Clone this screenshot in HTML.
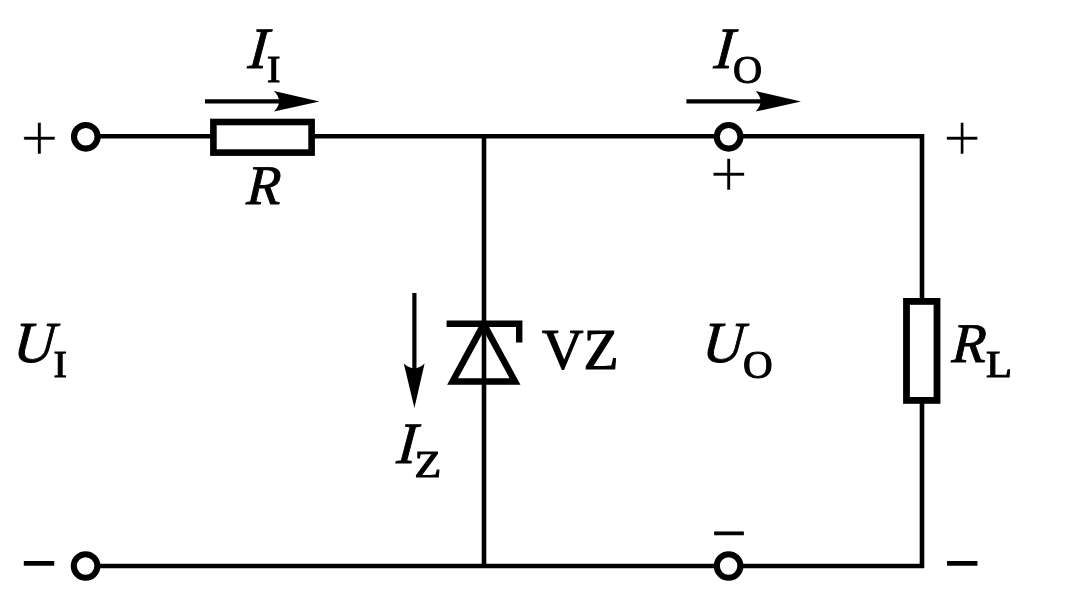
<!DOCTYPE html>
<html lang="en">
<head>
<meta charset="utf-8">
<title>Zener regulator circuit</title>
<style>
html,body{margin:0;padding:0;background:#fff;}
body{width:1080px;height:590px;overflow:hidden;}
svg{display:block;will-change:transform;}
text{font-family:"Liberation Serif","Times New Roman",serif;fill:#000;}
.it{font-style:italic;}
.pl{stroke:#fff;stroke-width:0.5;}
.w{stroke:#000;stroke-width:4.6;fill:none;stroke-linecap:butt;}
</style>
</head>
<body>
<svg width="1080" height="590" viewBox="0 0 1080 590">
<rect width="1080" height="590" fill="#fff"/>
<!-- wires -->
<path class="w" d="M97 136.2H213.5M311.5 136.2H717M740 136.2H922V301M922 401V566H740M717 566H97"/>
<path class="w" d="M484 136.2V566"/>
<!-- terminals -->
<g fill="#fff" stroke="#000" stroke-width="6.1">
<circle cx="85.8" cy="136.8" r="11.8"/>
<circle cx="85.6" cy="566" r="11.8"/>
<circle cx="728.6" cy="136.8" r="11.8"/>
<circle cx="728.6" cy="566" r="11.8"/>
</g>
<!-- resistors -->
<rect x="213.4" y="122" width="98.2" height="30.6" fill="#fff" stroke="#000" stroke-width="6.6"/>
<rect x="906.5" y="301.4" width="30.5" height="99" fill="#fff" stroke="#000" stroke-width="6.8"/>
<!-- zener -->
<path d="M446.6 323.8H519.2V342.6" fill="none" stroke="#000" stroke-width="6.4" stroke-linejoin="miter"/>
<path d="M483.8 324.1L452.6 381.5H515Z" fill="none" stroke="#000" stroke-width="6.5" stroke-linejoin="miter" stroke-miterlimit="10"/>
<!-- arrows -->
<path d="M205 101.4H284" stroke="#000" stroke-width="4.2" fill="none"/>
<path d="M319.4 101.4L274 91Q284 101.4 274 111.6Z" fill="#000"/>
<path d="M686.4 101.4H766" stroke="#000" stroke-width="4.2" fill="none"/>
<path d="M801 101.4L755.6 91Q765.6 101.4 755.6 111.6Z" fill="#000"/>
<path d="M414.4 293V372" stroke="#000" stroke-width="4.2" fill="none"/>
<path d="M414.4 408L403.8 363.4Q414.4 373 424.6 363.4Z" fill="#000"/>
<!-- labels -->
<g class="it" stroke="#000" stroke-width="0.9">
<text id="t1" transform="translate(247.3 67.9) skewX(-5)" font-size="58.5">I</text>
<text id="t3" transform="translate(245.9 204) skewX(-3)" font-size="56">R</text>
<text id="t4" transform="translate(713.3 67.9) skewX(-5)" font-size="58.5">I</text>
<text id="t6" transform="translate(12.4 361.8) skewX(-5) scale(0.985 1)" font-size="58">U</text>
<text id="t8" transform="translate(396.1 463.2) skewX(-5)" font-size="58.5">I</text>
<text id="t11" transform="translate(701.4 361.8) skewX(-5) scale(0.985 1)" font-size="58">U</text>
<text id="t13" transform="translate(951.3 362) skewX(-3)" font-size="56">R</text>
</g>
<g stroke="#000" stroke-width="1.1">
<text id="t2" transform="translate(267.1 81.9) scale(1.06 1)" font-size="38">I</text>
<text id="t5" transform="translate(732.9 82.9) scale(1.02 1.02)" font-size="39.5">O</text>
<text id="t7" transform="translate(53.6 377.4) scale(1.06 1)" font-size="38">I</text>
<text id="t9" transform="translate(414.6 477) scale(1.15 1)" font-size="38">Z</text>
<text id="t10" x="542" y="368.8" font-size="57.5">VZ</text>
<text id="t12" transform="translate(742.9 377.9) scale(1.04 1.02)" font-size="39.5">O</text>
<text id="t14" transform="translate(985.9 377.1) scale(1.12 1)" font-size="38">L</text>
</g>
<!-- polarity signs -->
<text id="p1" class="pl" x="20.4" y="160.8" font-size="67">+</text>
<text id="p2" class="pl" x="709.8" y="196.6" font-size="67">+</text>
<text id="p3" class="pl" x="943.2" y="160.8" font-size="67">+</text>
<g stroke="#000" stroke-width="1.6">
<text id="m1" x="21.6" y="584" font-size="62">−</text>
<text id="m2" x="711.6" y="554.4" font-size="62" stroke-width="0.8">−</text>
<text id="m3" x="944.8" y="584" font-size="62">−</text>
</g>
</svg>
</body>
</html>
